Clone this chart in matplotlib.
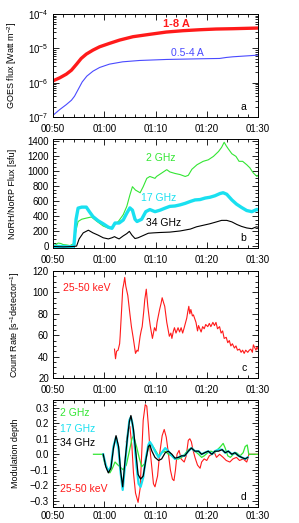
# %% Setup
import matplotlib
matplotlib.use("Agg")
import matplotlib.pyplot as plt
from matplotlib.ticker import MultipleLocator, FixedLocator, LogLocator, LogFormatterMathtext, NullFormatter

plt.rcParams["font.family"] = ["Liberation Sans", "DejaVu Sans"]
plt.rcParams["mathtext.default"] = "regular"
plt.rcParams["font.size"] = 7

# time in minutes after 00:50 UT
XTICKS = [0, 10, 20, 30, 40]
XTICKLABELS = ["00:50", "01:00", "01:10", "01:20", "01:30"]

# %% Panel a: GOES
goes_t = [0, 1.3, 2.6, 3.6, 4.6, 5.5, 6.5, 7.8, 9.1, 11.0, 13.0, 15.6, 18.8, 22.1, 25.3, 28.6, 31.8, 35.1, 40]
goes_long = [1.13e-6, 1.38e-6, 1.77e-6, 2.31e-6, 3.46e-6, 5.07e-6, 6.79e-6, 8.88e-6, 1.11e-5, 1.39e-5,
             1.74e-5, 2.18e-5, 2.55e-5, 2.98e-5, 3.26e-5, 3.48e-5, 3.65e-5, 3.73e-5, 3.90e-5]
goes_short_t = [0, 1.3, 2.6, 3.6, 4.2, 4.9, 5.7, 6.6, 7.8, 9.1, 11.0, 13.6, 16.9, 22.1, 28.6, 32.5, 33.8, 35.1, 40]
goes_short = [1.12e-7, 1.64e-7, 2.30e-7, 3.08e-7, 4.03e-7, 6.30e-7, 1.05e-6, 1.55e-6, 2.16e-6, 2.77e-6,
              3.46e-6, 4.05e-6, 4.43e-6, 4.74e-6, 4.96e-6, 5.07e-6, 5.42e-6, 5.67e-6, 6.33e-6]

# %% Panel b: NoRH/NoRP
f2_t = [0, 0.5, 1.0, 1.5, 2.0, 2.7, 3.3, 4.0, 4.5, 4.9, 5.6, 6.5, 7.5, 8.5, 9.8, 11.1, 11.8, 12.8, 13.7,
        14.4, 15.0, 15.5, 16.1, 17.0, 17.6, 18.3, 18.9, 19.9, 20.2, 21.2, 22.2, 22.8, 23.8, 24.8, 25.8,
        26.4, 27.1, 28.1, 29.3, 30.3, 31.3, 32.3, 32.9, 33.4, 33.8, 34.2, 34.9, 35.7, 36.3, 37.0, 37.8,
        38.4, 39.1, 39.8, 40]
f2 = [15, 20, 45, 40, 25, 20, 12, 35, 220, 330, 360, 375, 390, 335, 270, 235, 270, 335, 420,
      530, 680, 790, 745, 710, 790, 900, 925, 900, 925, 970, 1015, 985, 965, 950, 925,
      940, 1020, 1080, 1125, 1145, 1190, 1255, 1310, 1377, 1330, 1290, 1225, 1190, 1125, 1125, 1080,
      1040, 970, 925, 940]
f17_t = [0, 1, 2, 3, 4.0, 4.1, 4.5, 4.9, 5.6, 6.5, 7.1, 7.8, 8.8, 9.8, 10.8, 11.5, 12.1, 12.9, 13.7,
         14.4, 15.0, 15.5, 16.0, 16.4, 17.3, 18.1, 18.9, 19.9, 20.9, 21.8, 22.8, 23.8, 24.8, 25.8, 26.8,
         27.7, 28.7, 29.7, 30.6, 31.6, 32.6, 33.2, 33.9, 34.9, 35.8, 36.8, 37.8, 38.8, 39.8, 40]
f17 = [0, 0, 0, -5, 0, 20, 360, 507, 520, 520, 460, 395, 340, 300, 255, 240, 310, 310, 350,
       440, 510, 480, 360, 330, 360, 460, 488, 460, 480, 505, 530, 535, 550, 570, 595,
       615, 620, 640, 650, 670, 700, 710, 690, 615, 560, 515, 475, 460, 490, 485]
f34_t = [0, 2, 4, 4.6, 5.1, 5.9, 6.9, 7.8, 8.8, 9.8, 10.8, 11.5, 12.0, 12.4, 12.9, 13.7, 14.4, 14.9,
         15.4, 16.0, 16.6, 17.6, 18.6, 19.6, 20.9, 22.8, 24.8, 26.8, 28.0, 29.3, 30.6, 31.9, 32.9,
         33.9, 34.9, 35.9, 36.8, 37.8, 38.8, 39.7, 40]
f34 = [0, -5, 0, 5, 100, 180, 215, 180, 150, 115, 100, 115, 130, 115, 100, 140, 170, 200,
       150, 105, 115, 145, 175, 180, 185, 190, 205, 230, 260, 280, 300, 325, 345,
       345, 325, 290, 265, 245, 235, 260, 255]

# %% Panel c: HXR 25-50 keV
hxr_t = [12.0, 12.2, 12.4, 12.7, 13.0, 13.1, 13.4, 13.6, 13.8, 14.0, 14.2, 14.6, 15.0, 15.3, 15.7, 16.1,
         16.4, 16.6, 17.0, 17.2, 17.4, 17.7, 17.9, 18.2, 18.5, 18.8, 19.0, 19.4, 19.6, 19.8, 20.1, 20.3,
         20.8, 21.1, 21.3, 21.6, 21.8, 22.2, 22.7, 23.0, 23.2, 23.5, 23.7, 24.0, 24.4, 24.7, 25.0, 25.3,
         25.6, 26.1, 26.3, 26.5, 26.7, 26.9, 27.2, 27.4, 27.9, 28.2, 28.4, 28.9, 29.2, 29.5, 29.8, 30.2,
         30.5, 30.8, 31.2, 31.5, 31.8, 32.1, 32.5, 32.8, 33.1, 33.4, 33.8, 34.1, 34.4, 34.7, 35.0, 35.4,
         35.7, 36.0, 36.4, 36.7, 37.0, 37.3, 37.6, 38.0, 38.3, 38.6, 38.9, 39.1, 39.4, 39.6, 39.8, 40]
hxr = [47, 38, 45, 46, 52, 59, 85, 103, 108, 114, 106, 97, 80, 68, 56, 43,
       46, 45, 59, 64, 68, 82, 93, 103, 87, 75, 68, 57, 62, 67, 64, 72,
       84, 90, 95, 90, 87, 72, 59, 62, 57, 64, 67, 62, 67, 63, 67, 62,
       67, 76, 82, 87, 80, 84, 78, 79, 72, 64, 69, 63, 68, 66, 70, 68,
       71, 68, 72, 69, 72, 66, 68, 62, 64, 57, 58, 53, 55, 50, 52, 48,
       50, 46, 47, 44, 46, 43, 46, 44, 46, 47, 44, 51, 48, 46, 49, 47]

# %% Panel d: modulation depth
m2_t = [7.9, 9.7, 10.1, 11.1, 11.6, 12.1, 12.7, 13.7, 14.3, 14.9, 15.4, 15.7, 16.3, 16.8, 17.3, 17.9,
        18.6, 19.3, 19.9, 20.6, 21.2, 21.9, 22.5, 23.2, 23.8, 24.5, 25.1, 25.7, 26.4, 27.0, 27.7, 28.4,
        29.0, 29.5, 30.2, 30.8, 31.5, 32.1, 32.7, 33.2, 33.6, 34.1, 34.6, 35.2, 35.8, 36.5, 37.1, 37.5,
        37.9, 38.2, 40]
m2 = [0, 0, -0.06, -0.12, -0.09, -0.05, -0.07, -0.10, -0.07, 0.02, 0.10, 0.12, 0.05, -0.02, -0.08, -0.06,
      0.04, 0.06, 0.03, -0.01, 0.01, 0.02, 0.0, -0.01, -0.03, -0.03, -0.02, 0.0, 0.03, 0.04, 0.02, 0.0,
      -0.02, -0.01, 0.01, 0.02, 0.01, 0.03, 0.05, 0.07, 0.04, -0.01, -0.02, 0.0, 0.01, -0.01, 0.01, 0.05,
      0.06, 0.0, 0.0]
m17_t = [9.8, 10.3, 10.8, 11.3, 11.8, 12.3, 12.8, 13.2, 13.6, 14.0, 14.5, 14.9, 15.2, 15.5, 15.9, 16.3,
         16.7, 17.1, 17.6, 18.1, 18.6, 18.9, 19.3, 19.9, 20.6, 21.2, 21.9, 22.5, 23.2, 23.8, 24.5, 25.1,
         25.7, 26.4, 27.0, 27.7, 28.4, 29.0, 29.6, 30.3, 31.0, 31.6, 32.3, 33.0, 33.6, 34.2, 34.9, 35.5,
         36.2, 36.8, 37.5, 38.0]
m17 = [0.0, -0.07, -0.11, -0.08, 0.05, 0.11, 0.03, -0.12, -0.23, -0.09, 0.10, 0.22, 0.24, 0.20, 0.07, -0.08,
       -0.19, -0.21, -0.15, -0.03, 0.06, 0.08, 0.06, 0.02, -0.02, 0.01, 0.04, 0.02, -0.01, -0.03, -0.02, -0.01,
       -0.01, 0.02, 0.04, 0.02, 0.02, 0.0, 0.01, 0.02, 0.0, 0.02, 0.03, 0.03, 0.01, 0.02, 0.0, 0.01,
       -0.01, -0.02, -0.03, -0.02]
m34_t = [9.8, 10.3, 10.8, 11.3, 11.8, 12.3, 12.8, 13.2, 13.6, 14.0, 14.5, 14.9, 15.2, 15.7, 16.2, 16.6,
         17.1, 17.6, 18.1, 18.6, 18.9, 19.3, 19.9, 20.6, 21.2, 21.9, 22.5, 23.2, 23.8, 24.5, 25.1, 25.7,
         26.4, 27.0, 27.7, 28.4, 29.0, 29.6, 30.3, 31.0, 31.6, 32.3, 33.0, 33.6, 34.2, 34.9, 35.5, 36.2,
         36.8, 37.5, 38.0]
m34 = [0.0, -0.08, -0.12, -0.09, 0.04, 0.12, 0.05, -0.11, -0.21, -0.06, 0.10, 0.21, 0.25, 0.16, 0.0, -0.13,
       -0.16, -0.14, -0.04, 0.05, 0.06, 0.02, -0.02, -0.04, -0.03, 0.01, 0.02, 0.0, -0.025, -0.02, -0.01, -0.01,
       0.02, 0.04, 0.02, 0.02, 0.0, 0.01, 0.02, 0.0, 0.02, 0.02, 0.03, 0.01, 0.02, 0.0, 0.01, -0.01,
       -0.02, -0.03, -0.02]
mx_t = [14.3, 14.7, 15.0, 15.4, 15.7, 16.1, 16.6, 17.0, 17.3, 17.6, 18.0, 18.3, 18.6, 18.9, 19.3, 19.6,
        19.9, 20.4, 20.8, 21.3, 21.7, 22.1, 22.5, 22.9, 23.3, 23.6, 23.9, 24.2, 24.6, 25.0, 25.3, 25.6,
        26.0, 26.4, 26.7, 27.0, 27.3, 27.7, 28.2, 28.7, 29.0, 29.5, 30.0, 30.5, 31.0, 31.5, 31.9, 32.5,
        33.2, 33.8, 34.5, 35.1, 35.8, 36.4, 37.1, 37.8, 38.1, 38.2, 40]
mx = [0.08, 0.16, 0.18, 0.05, -0.12, -0.25, -0.31, -0.22, 0.0, 0.22, 0.32, 0.31, 0.19, 0.04, -0.09, -0.19,
      -0.21, -0.14, 0.0, 0.12, 0.16, 0.11, 0.01, -0.10, -0.16, -0.17, -0.10, 0.0, 0.025, -0.03, -0.04, -0.05,
      -0.01, 0.09, 0.10, 0.08, 0.03, -0.02, -0.07, -0.09, -0.05, -0.03, -0.04, -0.01, 0.0, 0.01, -0.02, 0.0,
      -0.02, -0.04, -0.05, -0.03, -0.02, -0.04, -0.03, -0.05, -0.02, 0.0, 0.0]

# %% Figure
RED = "#ff1a1a"
GREEN = "#33e633"
CYAN = "#19e0f0"
BLUE = "#4a4aff"

fig = plt.figure(figsize=(2.99, 5.23), dpi=100)
L, W = 53 / 299, 205 / 299
ax_a = fig.add_axes([L, 1 - 117 / 523, W, 103 / 523])
ax_b = fig.add_axes([L, 1 - 248 / 523, W, 109 / 523])
ax_c = fig.add_axes([L, 1 - 378 / 523, W, 107 / 523])
ax_d = fig.add_axes([L, 1 - 507 / 523, W, 107 / 523])

for ax in (ax_a, ax_b, ax_c, ax_d):
    ax.set_xlim(0, 40)
    ax.set_xticks(XTICKS)
    ax.set_xticklabels(XTICKLABELS)
    ax.xaxis.set_minor_locator(MultipleLocator(2))
    ax.tick_params(which="both", direction="in", top=True, right=True, width=0.6, labelsize=7)
    ax.tick_params(axis="x", which="major", pad=5 if ax is not ax_d else 3)
    ax.tick_params(axis="y", which="major", pad=3)
    ax.tick_params(which="major", length=4)
    ax.tick_params(which="minor", length=2)
    for sp in ax.spines.values():
        sp.set_linewidth(0.7)

# a
ax_a.semilogy(goes_t, goes_long, color=RED, lw=2.4)
ax_a.semilogy(goes_short_t, goes_short, color=BLUE, lw=0.8)
ax_a.set_ylim(1e-7, 1e-4)
ax_a.yaxis.set_major_locator(LogLocator(base=10))
ax_a.yaxis.set_major_formatter(LogFormatterMathtext())
ax_a.yaxis.set_minor_locator(LogLocator(base=10, subs=range(2, 10)))
ax_a.yaxis.set_minor_formatter(NullFormatter())
ax_a.set_ylabel("GOES flux [Watt m$^{-2}$]", fontsize=6.5)
ax_a.yaxis.set_label_coords(-0.165, 0.5)
ax_a.text(0.60, 0.90, "1-8 A", color=RED, fontsize=8, fontweight="bold", ha="center", va="center", transform=ax_a.transAxes)
ax_a.text(0.654, 0.62, "0.5-4 A", color=BLUE, fontsize=7.5, ha="center", va="center", transform=ax_a.transAxes)
ax_a.text(0.93, 0.095, "a", fontsize=7.5, ha="center", va="center", transform=ax_a.transAxes)

# b
ax_b.plot(f2_t, f2, color=GREEN, lw=0.8)
ax_b.plot(f17_t, f17, color=CYAN, lw=2.4)
ax_b.plot(f34_t, f34, color="black", lw=0.8)
ax_b.set_ylim(-20, 1420)
ax_b.yaxis.set_major_locator(MultipleLocator(200))
ax_b.yaxis.set_minor_locator(MultipleLocator(50))
ax_b.set_ylabel("NoRH/NoRP Flux [sfu]", fontsize=6.5)
ax_b.yaxis.set_label_coords(-0.175, 0.5)
ax_b.text(0.527, 0.826, "2 GHz", color=GREEN, fontsize=7.5, ha="center", va="center", transform=ax_b.transAxes)
ax_b.text(0.517, 0.459, "17 GHz", color=CYAN, fontsize=7.5, ha="center", va="center", transform=ax_b.transAxes)
ax_b.text(0.541, 0.229, "34 GHz", color="black", fontsize=7.5, ha="center", va="center", transform=ax_b.transAxes)
ax_b.text(0.93, 0.095, "b", fontsize=7.5, ha="center", va="center", transform=ax_b.transAxes)

# c
ax_c.plot(hxr_t, hxr, color=RED, lw=0.8)
ax_c.set_ylim(20, 120)
ax_c.yaxis.set_major_locator(MultipleLocator(20))
ax_c.yaxis.set_minor_locator(MultipleLocator(5))
ax_c.set_ylabel("Count Rate [s$^{-1}$detector$^{-1}$]", fontsize=6.5)
ax_c.yaxis.set_label_coords(-0.15, 0.5)
ax_c.text(0.166, 0.841, "25-50 keV", color=RED, fontsize=7.5, ha="center", va="center", transform=ax_c.transAxes)
ax_c.text(0.93, 0.095, "c", fontsize=7.5, ha="center", va="center", transform=ax_c.transAxes)

# d
ax_d.plot(mx_t, mx, color=RED, lw=0.8)
ax_d.plot(m2_t, m2, color=GREEN, lw=0.9)
ax_d.plot(m17_t, m17, color=CYAN, lw=1.6)
ax_d.plot(m34_t, m34, color="black", lw=0.9)
ax_d.set_ylim(-0.34, 0.35)
ax_d.yaxis.set_major_locator(FixedLocator([-0.3, -0.2, -0.1, 0.0, 0.1, 0.2, 0.3]))
ax_d.yaxis.set_minor_locator(MultipleLocator(0.02))
ax_d.set_yticklabels(["\u22120.3", "\u22120.2", "\u22120.1", "0.0", "0.1", "0.2", "0.3"])
ax_d.set_ylabel("Modulation depth", fontsize=6.5)
ax_d.yaxis.set_label_coords(-0.16, 0.5)
ax_d.text(0.034, 0.88, "2 GHz", color=GREEN, fontsize=7.5, ha="left", va="center", transform=ax_d.transAxes)
ax_d.text(0.034, 0.731, "17 GHz", color=CYAN, fontsize=7.5, ha="left", va="center", transform=ax_d.transAxes)
ax_d.text(0.034, 0.60, "34 GHz", color="black", fontsize=7.5, ha="left", va="center", transform=ax_d.transAxes)
ax_d.text(0.034, 0.167, "25-50 keV", color=RED, fontsize=7.5, ha="left", va="center", transform=ax_d.transAxes)
ax_d.text(0.93, 0.095, "d", fontsize=7.5, ha="center", va="center", transform=ax_d.transAxes)

fig.savefig("out.png", dpi=100)
